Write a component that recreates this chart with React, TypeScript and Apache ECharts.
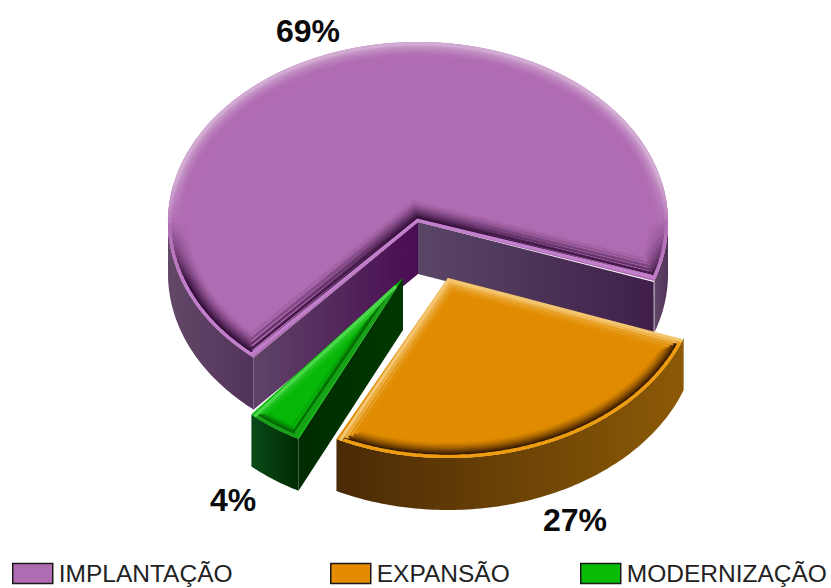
import React, { useEffect, useRef } from "react";
import * as echarts from "echarts";

const sliceNames = ["IMPLANTAÇÃO", "EXPANSÃO", "MODERNIZAÇÃO"];
const sliceValues = [69, 27, 4];
// clockwise drawing order of the slices, starting at firstAngle
const sweepOrder = [1, 2, 0];
const firstAngle = 19.5;

const CX = 418, CY = 222, RX = 250, RY = 180, DEPTH = 52;

type Look = {
  dx: number; dy: number; sx: number;
  base: number[]; rim: number[]; light: number[]; dark: number[];
  swatch: string; nDark: number; nLight: number; darkA: number; lightA: number;
  arcWall: string[]; wallA: string[]; wallB: string[];
  label: number[];
};

const looks: Look[] = [
  {
    dx: 0, dy: 0, sx: 1, base: [176, 108, 178], rim: [194, 127, 203], light: [230, 208, 230], dark: [38, 4, 44], swatch: "#B06CB2",
    nDark: 15, nLight: 10, darkA: 0.48, lightA: 0.3,
    arcWall: ["#634868", "#52335A"], wallA: ["#4A0C52", "#5E4467"], wallB: ["#5A4666", "#3F1F4A"],
    label: [308, 31],
  },
  {
    dx: 30, dy: 56, sx: 1, base: [225, 140, 0], rim: [238, 156, 16], light: [255, 230, 176], dark: [46, 20, 0], swatch: "#E58B00",
    nDark: 11, nLight: 9, darkA: 0.5, lightA: 0.3,
    arcWall: ["#4A2A06", "#8C5A06"], wallA: ["#5A3500", "#5A3500"], wallB: ["#5A3500", "#5A3500"],
    label: [575, 520],
  },
  {
    dx: -15, dy: 56, sx: 0.93, base: [8, 184, 8], rim: [24, 160, 24], light: [128, 240, 128], dark: [0, 51, 0], swatch: "#08BC08",
    nDark: 7, nLight: 7, darkA: 0.35, lightA: 0.25,
    arcWall: ["#0A4A18", "#002C00"], wallA: ["#003800", "#002C00"], wallB: ["#002E00", "#004000"],
    label: [233, 500],
  },
];

const legendLeft = [12, 330, 580];

const total = sliceValues.reduce((a, b) => a + b, 0);
function sliceRange(idx: number): [number, number] {
  let a = firstAngle;
  for (const i of sweepOrder) {
    const s = (sliceValues[i] / total) * 360;
    if (i === idx) return [a, a + s];
    a += s;
  }
  return [a, a];
}

const rad = (d: number) => (d * Math.PI) / 180;
const hGrad = (a: string, b: string) => ({
  type: "linear", x: 0, y: 0, x2: 1, y2: 0,
  colorStops: [{ offset: 0, color: a }, { offset: 1, color: b }],
});
const rgb = (c: number[]) => `rgb(${c[0]},${c[1]},${c[2]})`;
// colour c laid over base with the strength a, as a solid colour
const over = (base: number[], c: number[], a: number) =>
  rgb(base.map((b, i) => Math.round(b + (c[i] - b) * a)));

function renderSlice(idx: number, value: number) {
  const look = looks[idx];
  const [a0, a1] = sliceRange(idx);
  const sweep = (value / total) * 360;
  const cx = CX + look.dx, cy = CY + look.dy, rx = RX * look.sx, ry = RY;
  const pt = (t: number, d: number) => [cx + (rx - d) * Math.cos(rad(t)), cy + (ry - d) * Math.sin(rad(t))];
  const unit = (p: number[]) => {
    const x = p[0] - cx, y = p[1] - cy, l = Math.hypot(x, y);
    return [x / l, y / l];
  };
  const u0 = unit(pt(a0, 0)), u1 = unit(pt(a1, 0));
  const n0 = [-u0[1], u0[0]], n1 = [u1[1], -u1[0]];
  const det = n0[0] * n1[1] - n0[1] * n1[0];
  const apex = (d: number) => [
    cx + (d * n1[1] - d * n0[1]) / det,
    cy + (n0[0] * d - n1[0] * d) / det,
  ];
  const arc = (d: number, step = 1) => {
    const out: { t: number; p: number[] }[] = [];
    for (let t = a0; t <= a1 + 1e-6; t += step) {
      const p = pt(t, d);
      const n = t - a0 < sweep / 2 ? n0 : n1;
      if ((p[0] - cx) * n[0] + (p[1] - cy) * n[1] >= d) out.push({ t, p });
    }
    return out;
  };

  const kids: any[] = [];
  const shape = (points: number[][], fill: any) => kids.push({ type: "polygon", shape: { points }, style: { fill } });

  const wallArc = (from: number, to: number) => {
    if (to <= from) return;
    const topPts: number[][] = [], botPts: number[][] = [];
    for (let t = from; t <= to + 1e-6; t += 1) {
      const p = pt(t, 0);
      topPts.push(p);
      botPts.unshift([p[0], p[1] + DEPTH]);
    }
    shape(topPts.concat(botPts), hGrad(look.arcWall[0], look.arcWall[1]));
  };
  wallArc(Math.max(a0, 0), Math.min(a1, 180));
  wallArc(Math.max(a0, 360), Math.min(a1, 540));

  const wallEdge = (end: number[], n: number[], c: string[]) => {
    if (n[1] >= 0) return;
    const e = [cx, cy];
    shape([e, end, [end[0], end[1] + DEPTH], [e[0], e[1] + DEPTH]], hGrad(c[0], c[1]));
  };
  const endA = pt(a0, 0), endB = pt(a1, 0);
  const flip = (c: string[], p: number[]) => (p[0] < cx ? [c[1], c[0]] : c);
  wallEdge(endA, n0, flip(look.wallA, endA));
  wallEdge(endB, n1, flip(look.wallB, endB));

  // top face, full size
  const facePts = arc(0).map((q) => q.p);
  facePts.push([cx, cy]);
  shape(facePts, rgb(look.base));

  const stroke = (points: number[][], color: string, width: number) => {
    if (points.length < 2) return;
    kids.push({
      type: "polyline",
      shape: { points },
      style: { fill: null, stroke: color, lineWidth: width, lineJoin: "miter", lineCap: "round" },
    });
  };
  const frontW = (t: number) => Math.max(0, Math.min(1, Math.sin(rad(t)) / 0.35));
  const backW = (t: number) => Math.max(0, Math.min(1, -Math.sin(rad(t)) / 0.25));

  const band = (d: number, width: number, front: (w: number) => string, back: (w: number) => string) => {
    const ring = arc(d);
    if (!ring.length) return;
    for (let i = 0; i + 2 < ring.length; i += 2) {
      const mid = ring[i + 1].t;
      const seg = [ring[i].p, ring[i + 1].p, ring[i + 2].p];
      const f = frontW(mid);
      stroke(seg, f > 0 ? front(f) : back(backW(mid)), width);
    }
    const first = ring[0].p, last = ring[ring.length - 1].p, ap = apex(d);
    const fA = n0[1] < 0, fB = n1[1] < 0;
    if (fA && fB) stroke([first, ap, last], front(1), width);
    else {
      stroke([ap, first], fA ? front(1) : back(1), width);
      stroke([last, ap], fB ? front(1) : back(1), width);
    }
  };

  const N = Math.max(look.nDark, look.nLight);
  const STEP = 1.2;
  const shade = (k: number) => {
    const kd = k / look.nDark, kl = k / look.nLight;
    const dk = kd < 1 ? Math.pow(1 - kd, 1.4) * look.darkA * 2 : 0;
    const lt = kl < 1 ? Math.pow(1 - kl, 1.6) * look.lightA * 1.6 : 0;
    return [dk, lt];
  };
  // one solid colour per ring, innermost last so that the outer rings stay on top
  for (let k = N - 1; k >= 0; k--) {
    const [dk, lt] = shade(k);
    band(
      3 + k * STEP,
      2,
      (w) => over(look.base, look.dark, dk * w),
      (w) => over(look.base, look.light, lt * w),
    );
  }
  band(1.6, 3.4, (w) => over(look.base, look.rim, w), (w) => over(look.base, look.light, shade(0)[1] * w + 0.15));

  kids.push({
    type: "text",
    style: {
      text: `${value}%`, x: look.label[0], y: look.label[1], align: "center", verticalAlign: "middle",
      font: 'bold 32px "Liberation Sans", Arial, sans-serif', fill: "#0A0A0A",
    },
  });
  return { type: "group", children: kids };
}

export default function App() {
  const ref = useRef<HTMLDivElement>(null);
  useEffect(() => {
    const chart = echarts.init(ref.current!, undefined, { renderer: "svg" });
    chart.setOption({
      animation: false,
      backgroundColor: "#FFFFFF",
      legend: sliceNames.map((name, i) => ({
        left: legendLeft[i],
        top: 561,
        padding: 0,
        selectedMode: false,
        itemWidth: 40,
        itemHeight: 20,
        icon: "rect",
        data: [{ name, itemStyle: { color: looks[i].swatch, borderColor: "#1A1A1A", borderWidth: 1.5 } }],
        textStyle: { color: "#222222", fontSize: 24.5, fontFamily: '"Liberation Sans", Arial, sans-serif', padding: [0, 0, 0, 1] },
      })),
      series: sliceNames.map((name, i) => ({
        type: "custom",
        name,
        coordinateSystem: "none",
        silent: true,
        itemStyle: { color: looks[i].swatch },
        data: [[sliceValues[i]]],
        renderItem: (_p: any, api: any) => renderSlice(i, api.value(0)),
      })),
    });
    return () => chart.dispose();
  }, []);
  return <div ref={ref} style={{ position: "absolute", left: 0, top: 0, width: 831, height: 588 }} />;
}
